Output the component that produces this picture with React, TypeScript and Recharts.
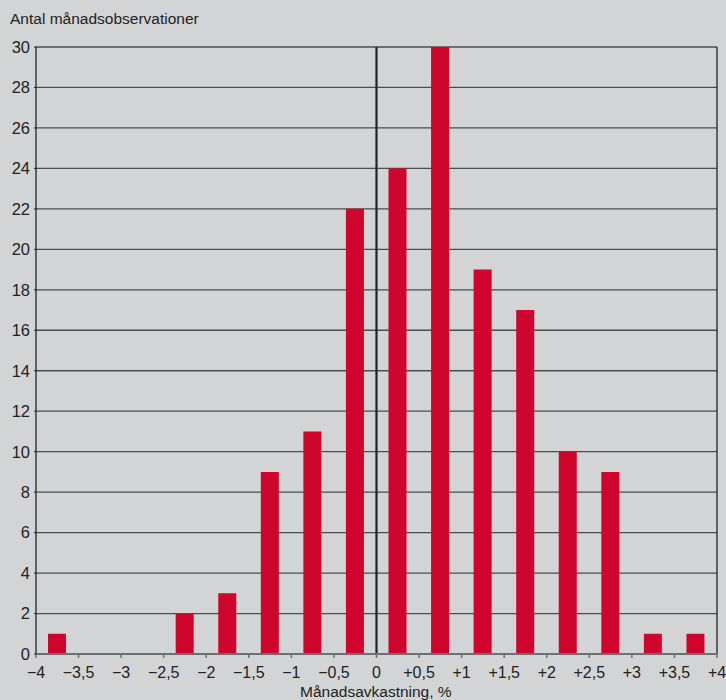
import React from "react";
import {
  BarChart,
  Bar,
  XAxis,
  YAxis,
  CartesianGrid,
  ReferenceLine,
} from "recharts";

// Histogram bins: centre of each 0.5 %-wide return bin and its monthly count
const binCenters = [
  -3.75, -3.25, -2.75, -2.25, -1.75, -1.25, -0.75, -0.25,
  0.25, 0.75, 1.25, 1.75, 2.25, 2.75, 3.25, 3.75,
];
const monthCounts = [1, 0, 0, 2, 3, 9, 11, 22, 24, 30, 19, 17, 10, 9, 1, 1];

const xTicks = [-4, -3.5, -3, -2.5, -2, -1.5, -1, -0.5, 0, 0.5, 1, 1.5, 2, 2.5, 3, 3.5, 4];
const yTicks = [0, 2, 4, 6, 8, 10, 12, 14, 16, 18, 20, 22, 24, 26, 28, 30];

const yTitle = "Antal månadsobservationer";
const xTitle = "Månadsavkastning, %";

const rows = binCenters.map((x, i) => ({ x, n: monthCounts[i] }));

const FONT = '"Liberation Sans", Arial, Helvetica, sans-serif';
const BG = "#d3d4d6";
const INK = "#222";

function fmtX(v: number) {
  if (v === 0) return "0";
  const s = String(Math.abs(v)).replace(".", ",");
  return (v > 0 ? "+" : "\u2212") + s;
}

export default function App() {
  return (
    <div
      style={{
        position: "relative",
        width: 726,
        height: 700,
        background: BG,
        overflow: "hidden",
        fontFamily: FONT,
      }}
    >
      <style>{"body{margin:0}"}</style>
      <div
        style={{
          position: "absolute",
          left: 10,
          top: 10,
          fontSize: 15.5,
          color: INK,
          whiteSpace: "nowrap",
        }}
      >
        {yTitle}
      </div>
      <BarChart
        width={726}
        height={700}
        data={rows}
        margin={{ top: 47, right: 9, bottom: 0, left: 0 }}
        style={{ fontFamily: FONT }}
      >
        <CartesianGrid
          vertical={false}
          stroke="#4d4d4f"
          strokeWidth={1.3}
        />
        <XAxis
          dataKey="x"
          type="number"
          domain={[-4, 4]}
          ticks={xTicks}
          tickFormatter={fmtX}
          interval={0}
          height={46}
          axisLine={{ stroke: "#6f6f71", strokeWidth: 2 }}
          tickLine={{ stroke: "#6f6f71", strokeWidth: 1.5 }}
          tickSize={4}
          tickMargin={9}
          tick={{ fill: INK, fontSize: 16 }}
        />
        <YAxis
          type="number"
          domain={[0, 30]}
          ticks={yTicks}
          interval={0}
          width={36}
          axisLine={{ stroke: INK, strokeWidth: 1.3 }}
          tickLine={{ stroke: INK }}
          tickSize={2}
          tickMargin={4}
          tick={{ fill: INK, fontSize: 16.5 }}
        />
        <ReferenceLine x={4} stroke={INK} strokeWidth={1.3} />
        <Bar
          dataKey="n"
          fill="#d0052d"
          barSize={18}
          isAnimationActive={false}
        />
        <ReferenceLine x={0} stroke={INK} strokeWidth={2.2} />
      </BarChart>
      <div
        style={{
          position: "absolute",
          left: 300,
          top: 683,
          fontSize: 15.5,
          color: INK,
          whiteSpace: "nowrap",
        }}
      >
        {xTitle}
      </div>
    </div>
  );
}
